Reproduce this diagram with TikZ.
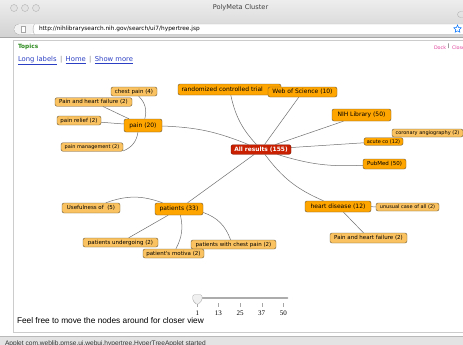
\documentclass[tikz,border=0pt]{standalone}
\usepackage{fontspec}
\setmainfont{Liberation Sans}
\newfontfamily\lblfont{DejaVu Sans}
\newfontfamily\numfont{Liberation Serif}
\usetikzlibrary{backgrounds,shapes.geometric}

\definecolor{topicfill}{HTML}{FFA500}
\definecolor{subfill}{HTML}{FAC260}
\definecolor{boxline}{HTML}{6B5836}
\definecolor{rootfill}{HTML}{C82000}
\definecolor{rootline}{HTML}{7A1400}
\definecolor{edgegray}{HTML}{707070}
\definecolor{chrometop}{HTML}{EDEDED}
\definecolor{chromelow}{HTML}{D2D2D2}
\definecolor{linkblue}{HTML}{2B3FC4}
\definecolor{topicgreen}{HTML}{2C8A1E}
\definecolor{dockpink}{HTML}{E0409A}

\tikzset{
  topic/.style={draw=boxline, fill=topicfill, rounded corners=2pt, inner sep=0.8pt,
    font=\lblfont\fontsize{6}{6}\selectfont},
  subtopic/.style={topic, fill=subfill, font=\lblfont\fontsize{5.5}{5.5}\selectfont},
  root/.style={topic, draw=rootline, fill=rootfill, text=white,
    font=\lblfont\bfseries\fontsize{5.9}{6}\selectfont},
  smalltext/.style={font=\lblfont\fontsize{5}{5}\selectfont},
  wh/.style 2 args={minimum width=#1, minimum height=#2},
  link/.style={draw=edgegray, line width=0.5pt},
}

\begin{document}
\begin{tikzpicture}[x=1pt, y=-1pt]
  \useasboundingbox (0,0) rectangle (463,345);

  % Page background
  \begin{pgfonlayer}{background}
    \fill[white] (0,0) rectangle (463,345);
  \end{pgfonlayer}

  % Draw the window title bar and address bar
  \shade[top color=chrometop, bottom color=chromelow] (0,0) rectangle (463,37);
  \draw[gray!70] (0,37.5) -- (463,37.5);
  \foreach \x in {14,25,36}
    \filldraw[fill=gray!22, draw=gray!60] (\x,8) circle (3.5);
  \node[font=\lblfont\fontsize{6.6}{7}\selectfont, text=black!75] (title) at (240.5,8) {PolyMeta Cluster};
  \draw[gray!60, rounded corners=3pt] (470,11.5) -- (457.5,11.5) -- (457.5,17.5) -- (470,17.5);

  \filldraw[fill=white, draw=gray!65, rounded corners=5pt] (14,24) rectangle (480,34.5);
  \fill[gray!10, rounded corners=5pt] (14.4,24.4) -- (34.5,24.4) -- (34.5,34.1) -- (14.4,34.1) -- cycle;
  \draw[gray!65] (34.5,24) .. controls (32.5,27) and (32.5,31.5) .. (34.5,34.5);
  \draw[gray!70, fill=white] (21,26.5) rectangle (25.5,32);
  \node[anchor=west, font=\lblfont\fontsize{5.8}{6}\selectfont] (url) at (35.5,29.3)
    {http://nihlibrarysearch.nih.gov/search/ui7/hypertree.jsp};
  \node[star, star points=5, star point ratio=2.2, draw=blue!55!cyan, line width=0.5pt,
    minimum size=8, inner sep=0] (bookmark) at (457.5,29) {};

  % Draw the applet frame and its header
  \draw[gray!40] (463,40) -- (13,40) -- (13,332.5) -- (463,332.5);
  \node[anchor=west, text=topicgreen, font=\lblfont\bfseries\fontsize{5.8}{6}\selectfont] (topics) at (14.5,47) {Topics};
  \node[anchor=west, text=dockpink, font=\lblfont\fontsize{4.8}{5}\selectfont] (dock) at (430.5,47.3) {Dock};
  \node[anchor=west, font=\lblfont\fontsize{4.8}{5}\selectfont, inner sep=0.5pt] (bar) at (447,46.5) {|};
  \node[anchor=west, text=dockpink, font=\lblfont\fontsize{4.8}{5}\selectfont] (close) at (448.5,47.3) {Close};
  \node[anchor=west, text=linkblue, font=\lblfont\fontsize{6.8}{7}\selectfont] (links) at (14.5,60.5)
    {\underline{Long labels}\enspace{\color{gray}|}\enspace\underline{Home}\enspace{\color{gray}|}\enspace\underline{Show more}};

  % Topic nodes of the hypertree
  \node[root, wh={60}{9.5}] (all) at (261,149.5) {All results (155)};

  \node[topic, wh={38}{13}] (pain) at (143,125.5) {pain (20)};
  \node[subtopic, wh={46}{9}] (chestpain) at (134,91.5) {chest pain (4)};
  \node[subtopic, wh={77}{8.5}] (painheart) at (93.5,102) {Pain and heart failure (2)};
  \node[subtopic, wh={44}{9}] (painrelief) at (79,120.5) {pain relief (2)};
  \node[subtopic, smalltext, wh={62}{8.5}] (painmgmt) at (92,147) {pain management (2)};

  \node[topic, wh={103}{11}, text width=96, align=left] (rct) at (229.5,89.5) {randomized controlled trial};
  \node[topic, wh={69}{10}] (wos) at (302.5,92) {Web of Science (10)};
  \node[topic, wh={59}{12}] (nih) at (361.5,115) {NIH Library (50)};
  \node[subtopic, smalltext, wh={71}{8}] (coronary) at (427.5,133) {coronary angiography (2)};
  \node[topic, smalltext, wh={39}{7.5}] (acute) at (383.5,141.5) {acute co (12)};
  \node[topic, font=\lblfont\fontsize{5.5}{5.5}\selectfont, wh={43}{10}] (pubmed) at (384.5,164) {PubMed (50)};

  \node[topic, wh={48}{12}] (patients) at (179,209) {patients (33)};
  \node[subtopic, wh={58}{10}] (useful) at (91,208) {Usefulness of \ (5)};
  \node[subtopic, wh={75}{9}] (undergoing) at (120.5,242.5) {patients undergoing (2)};
  \node[subtopic, wh={85}{9}] (withchest) at (233.5,244.5) {patients with chest pain (2)};
  \node[subtopic, wh={61}{9}] (motiva) at (173.5,253.5) {patient's motiva (2)};

  \node[topic, wh={66}{11}] (heart) at (338,206.5) {heart disease (12)};
  \node[subtopic, smalltext, wh={63}{8}] (unusual) at (407.5,207) {unusual case of all (2)};
  \node[subtopic, wh={77}{10}] (painheart2) at (368.5,238) {Pain and heart failure (2)};

  % Connectors behind the nodes
  \begin{pgfonlayer}{background}
    \draw[link] (pain) to[bend left=10] (all);
    \draw[link] (rct) to[bend right=15] (all);
    \draw[link] (wos) -- (all);
    \draw[link] (nih) -- (all);
    \draw[link] (acute) -- (all);
    \draw[link] (all) to[bend right=10] (pubmed);
    \draw[link] (all) -- (patients);
    \draw[link] (all) to[bend right=15] (heart);
    \draw[link] (chestpain) to[bend left=30] (pain);
    \draw[link] (painheart) -- (pain);
    \draw[link] (painrelief) -- (pain);
    \draw[link] (pain) to[bend left=30] (painmgmt);
    \draw[link] (useful) to[bend left=20] (patients);
    \draw[link] (patients) -- (undergoing);
    \draw[link] (patients) to[bend left=20] (motiva);
    \draw[link] (patients) to[bend left=25] (withchest);
    \draw[link] (heart) -- (unusual);
    \draw[link] (heart) -- (painheart2);
  \end{pgfonlayer}

  % Depth slider
  \coordinate (trackend) at (287.3,298.3);
  \foreach \v/\x in {1/197.3,13/218.3,25/240,37/261.7,50/283.3} {
    \node[font=\numfont\fontsize{7}{7}\selectfont, inner sep=0] (t\v) at (\x,313.3) {\v};
    \draw[gray!70] (\x,303.3) -- (\x,306.5);
  }
  \draw[line width=2pt, gray!65, line cap=round] (199,298.3) -- (trackend);
  \filldraw[fill=gray!12, draw=gray!65, rounded corners=1.5pt]
    (192.7,294.7) -- (202,294.7) -- (202,300.5) -- (197.3,305) -- (192.7,300.5) -- cycle;
  \coordinate (handle) at (197.3,299);

  % Footer text and status bar
  \node[anchor=west, font=\fontsize{8.3}{8.5}\selectfont] (hint) at (13.5,320.5)
    {Feel free to move the nodes around for closer view};
  \fill[gray!22] (0,336) rectangle (463,345);
  \draw[gray!55] (0,336) -- (463,336);
  \node[anchor=west, font=\fontsize{6.6}{7}\selectfont, text=black!80] (status) at (1.5,343.5)
    {Applet com.weblib.pmse.ui.webui.hypertree.HyperTreeApplet started};
\end{tikzpicture}
\end{document}
